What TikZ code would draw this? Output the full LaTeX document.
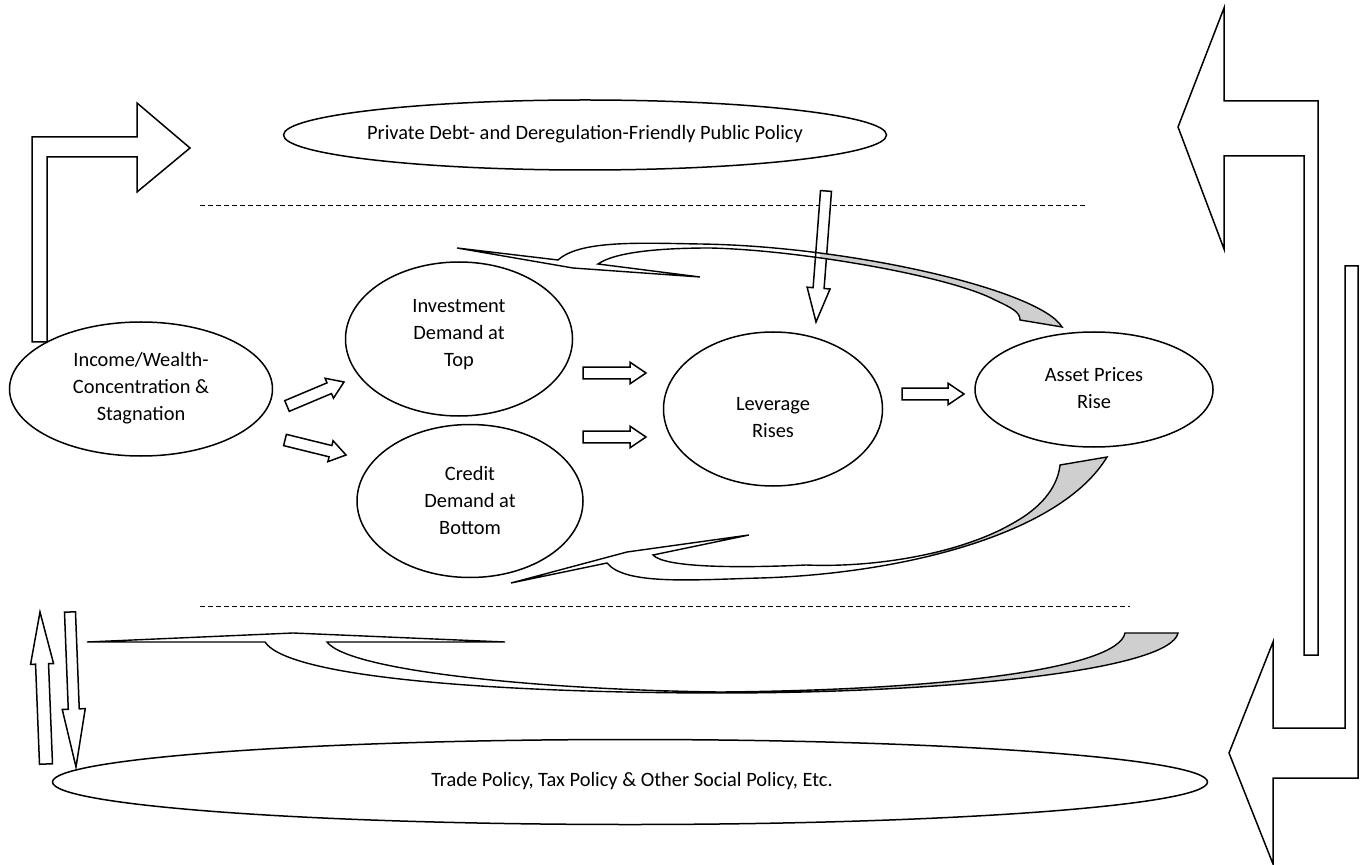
\documentclass[tikz,border=0pt]{standalone}
\usepackage{fontspec}
\setmainfont{Carlito}
\usetikzlibrary{shapes.geometric,calc}
\tikzset{
  bubble/.style={ellipse, draw, line width=0.75pt, inner sep=0pt},
  txt/.style={align=center, inner sep=0pt, font=\fontsize{10.2}{13.5}\selectfont},
  blk/.style={draw, line width=0.75pt, fill=white, line join=miter},
  sepline/.style={draw, line width=0.5pt, dash pattern=on 2.5pt off 1.5pt},
  band/.style={draw, line width=0.7pt, line join=miter},
  shade/.style={fill=black!19},
}
% block arrow: start, end, shaft half width, head half width, head length
\newcommand{\barrow}[5]{%
  \coordinate (bA) at (#1);
  \coordinate (bB) at (#2);
  \coordinate (bH) at ($(bB)!#5!(bA)$);
  \draw[blk] ($(bA)!#3!90:(bB)$) -- ($(bH)!#3!-90:(bA)$) -- ($(bH)!#4!-90:(bA)$)
    -- (bB) -- ($(bH)!#4!90:(bA)$) -- ($(bH)!#3!90:(bA)$) -- ($(bA)!#3!-90:(bB)$) -- cycle;
}
\begin{document}
\begin{tikzpicture}[x=0.5pt,y=-0.5pt]
\useasboundingbox (0,0) rectangle (1368,865);
\fill[white] (0,0) rectangle (1368,865);

% dashed separators
\coordinate (d1a) at (200,206); \coordinate (d1b) at (1087,206);
\coordinate (d2a) at (200,606); \coordinate (d2b) at (1130,606);
\draw[sepline] (d1a) -- (d1b);
\draw[sepline] (d2a) -- (d2b);

% ellipses
\node[bubble, minimum width=301.5pt, minimum height=35pt] (pub) at (585,135) {};
\node[bubble, minimum width=577.5pt, minimum height=42.5pt] (trade) at (630,782) {};
\node[bubble, minimum width=131.5pt, minimum height=67pt] (inc) at (141,389) {};
\node[bubble, minimum width=113.5pt, minimum height=77pt] (inv) at (459,339) {};
\node[bubble, minimum width=113pt, minimum height=76.5pt] (cred) at (470,501) {};
\node[bubble, minimum width=109.5pt, minimum height=77pt] (lev) at (773,409) {};
\node[bubble, minimum width=119pt, minimum height=57.5pt] (asset) at (1094,389.5) {};

\node[txt] (pubt) at (585,134) {Private Debt- and Deregulation-Friendly Public Policy};
\node[txt] (tradet) at (632,781) {Trade Policy, Tax Policy \& Other Social Policy, Etc.};
\node[txt] (inct) at (141,388) {Income/Wealth-\\Concentration \&\\Stagnation};
\node[txt] (invt) at (459,335) {Investment\\Demand at\\Top};
\node[txt] (credt) at (470,500) {Credit\\Demand at\\Bottom};
\node[txt] (levt) at (773,418) {Leverage\\Rises};
\node[txt] (assett) at (1094,388) {Asset Prices\\Rise};

% big bent arrows
\draw[blk] (32,342) -- (32,137) -- (137,137) -- (137,103) -- (190,148) -- (137,192)
  -- (137,157) -- (47,157) -- (47,342) -- cycle;
\draw[blk] (1318,655) -- (1318,101) -- (1224,101) -- (1224,8) -- (1178,127) -- (1224,249)
  -- (1224,156) -- (1304,156) -- (1304,655) -- cycle;
\draw[blk] (1345,266) -- (1358,266) -- (1358,778) -- (1273,778) -- (1273,864) -- (1229,753)
  -- (1273,642) -- (1273,728) -- (1345,728) -- cycle;

% small block arrows
\coordinate (a1s) at (287,406); \coordinate (a1e) at (344,382);
\coordinate (a2s) at (285,440); \coordinate (a2e) at (346,455);
\coordinate (a3s) at (583,373); \coordinate (a3e) at (646,373);
\coordinate (a4s) at (583,437); \coordinate (a4e) at (646,437);
\coordinate (a5s) at (902,394); \coordinate (a5e) at (964,394);
\coordinate (a6s) at (826,191); \coordinate (a6e) at (816,322);
\coordinate (a7s) at (46,764);  \coordinate (a7e) at (40,612);
\coordinate (a8s) at (70,612);  \coordinate (a8e) at (76,767);
\barrow{a1s}{a1e}{2.9pt}{5.4pt}{8pt}
\barrow{a2s}{a2e}{2.9pt}{5.4pt}{8pt}
\barrow{a3s}{a3e}{2.9pt}{5.4pt}{8pt}
\barrow{a4s}{a4e}{2.9pt}{5.4pt}{8pt}
\barrow{a5s}{a5e}{2.9pt}{5.4pt}{8pt}
\barrow{a6s}{a6e}{2.75pt}{5.75pt}{17pt}
\barrow{a7s}{a7e}{3.25pt}{5.75pt}{26pt}
\barrow{a8s}{a8e}{2.75pt}{5.75pt}{29pt}

% curved arrow 1 (Asset Prices back to Investment)
\begin{scope}
  \clip (820,0) rectangle (1368,865);
  \fill[shade] (558,260) .. controls (580,240) and (640,243) .. (700,244)
    .. controls (850,246) and (1040,290) .. (1062,327) -- (1020,320)
    .. controls (1020,312) and (1012,308) .. (995,300)
    .. controls (950,276) and (800,250) .. (710,248)
    .. controls (660,248) and (615,252) .. (598,264) -- cycle;
\end{scope}
\draw[band] (558,260) .. controls (580,240) and (640,243) .. (700,244)
    .. controls (850,246) and (1040,290) .. (1062,327) -- (1020,320)
    .. controls (1020,312) and (1012,308) .. (995,300)
    .. controls (950,276) and (800,250) .. (710,248)
    .. controls (660,248) and (615,252) .. (598,264)
    -- (700,277) -- (573,268) -- (457,248) -- cycle;

% curved arrow 2 (Asset Prices back to Credit)
\begin{scope}
  \clip (930,0) rectangle (1368,865);
  \fill[shade] (607,563) .. controls (625,585) and (690,580) .. (760,578)
    .. controls (900,574) and (1060,535) .. (1107,457) -- (1060,465)
    .. controls (1058,484) and (1045,505) .. (1015,522)
    .. controls (965,552) and (880,568) .. (806,565)
    .. controls (740,568) and (665,568) .. (653,555) -- cycle;
\end{scope}
\draw[band] (607,563) .. controls (625,585) and (690,580) .. (760,578)
    .. controls (900,574) and (1060,535) .. (1107,457) -- (1060,465)
    .. controls (1058,484) and (1045,505) .. (1015,522)
    .. controls (965,552) and (880,568) .. (806,565)
    .. controls (740,568) and (665,568) .. (653,555)
    -- (749,535) -- (627,552) -- (511,583) -- cycle;

% curved arrow 3 (bottom, back to Income)
\begin{scope}
  \clip (740,0) rectangle (1368,865);
  \fill[shade] (265,642) .. controls (290,680) and (520,693) .. (720,693)
    .. controls (950,693) and (1170,670) .. (1178,633) -- (1125,633)
    .. controls (1118,668) and (950,690) .. (720,692)
    .. controls (550,690) and (350,672) .. (327,642) -- cycle;
\end{scope}
\draw[band] (265,642) .. controls (290,680) and (520,693) .. (720,693)
    .. controls (950,693) and (1170,670) .. (1178,633) -- (1125,633)
    .. controls (1118,668) and (950,690) .. (720,692)
    .. controls (550,690) and (350,672) .. (327,642)
    -- (505,642) -- (293,633) -- (87,642) -- cycle;
\end{tikzpicture}
\end{document}
